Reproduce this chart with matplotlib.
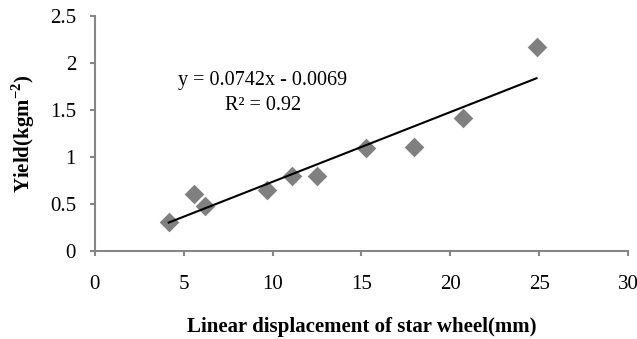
import matplotlib.pyplot as plt

# === данные ===
displacement = [4.15, 5.55, 6.2, 9.7, 11.1, 12.5, 15.25, 17.95, 20.7, 24.85]
yield_kgm2 = [0.31, 0.60, 0.48, 0.65, 0.80, 0.80, 1.09, 1.10, 1.41, 2.17]
slope, intercept = 0.0742, -0.0069
r2 = 0.92

plt.rcParams["font.family"] = ["Liberation Serif", "DejaVu Serif"]
plt.rcParams["mathtext.fontset"] = "custom"
plt.rcParams["mathtext.rm"] = "Liberation Serif"
plt.rcParams["mathtext.bf"] = "Liberation Serif:bold"

fig = plt.figure(figsize=(6.37, 3.39), dpi=100)
ax = fig.add_axes([0.149, 0.26, 0.837, 0.693])

ax.scatter(displacement, yield_kgm2, marker="D", s=100, c="#808080", zorder=2, linewidths=0)

x0, x1 = min(displacement), max(displacement)
ax.plot([x0, x1], [slope * x0 + intercept, slope * x1 + intercept], color="black", lw=1.5, zorder=3)

ax.text(9.45, 1.81, "y = 0.0742x - 0.0069", ha="center", va="center", fontsize=14.5)
ax.text(9.45, 1.55, "R² = %.2f" % r2, ha="center", va="center", fontsize=14.5)

ax.set_xlim(0, 30)
ax.set_ylim(0, 2.5)
ax.set_xticks(range(0, 31, 5))
ax.set_yticks([0, 0.5, 1, 1.5, 2, 2.5])
ax.set_yticklabels(["0", "0.5", "1", "1.5", "2", "2.5"])

for s in ["top", "right"]:
    ax.spines[s].set_visible(False)
for s in ["left", "bottom"]:
    ax.spines[s].set_color("#868686")
    ax.spines[s].set_linewidth(1.5)
ax.tick_params(direction="out", length=3.6, width=1.5, color="#868686", labelsize=15)
ax.tick_params(axis="x", pad=14)
ax.tick_params(axis="y", pad=10)

ax.set_xlabel("Linear displacement of star wheel(mm)", fontsize=15, fontweight="bold", labelpad=16)
ax.set_ylabel(r"Yield(kgm$^{\mathbf{-2}}$)", fontsize=15, fontweight="bold", labelpad=9)

fig.savefig("out.png", dpi=100)
